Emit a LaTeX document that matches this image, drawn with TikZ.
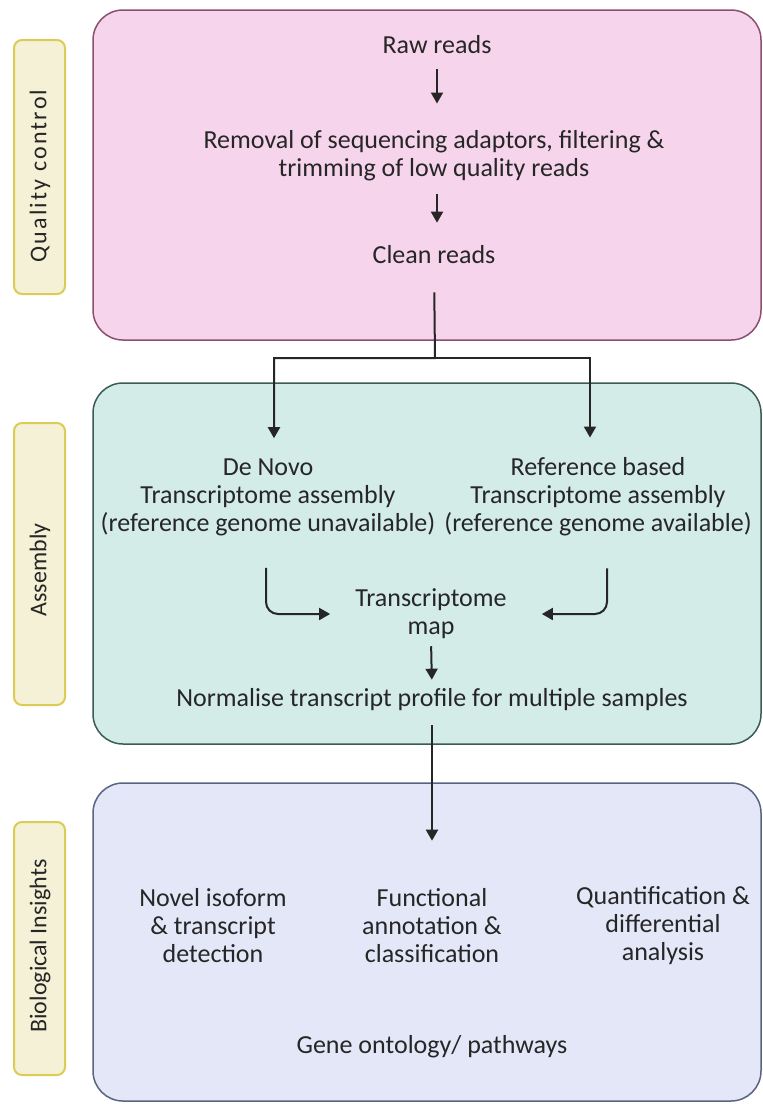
\documentclass[tikz,border=0pt]{standalone}
\usepackage{fontspec}
\setmainfont{Carlito}
\usetikzlibrary{arrows.meta}
\definecolor{pinkfill}{HTML}{F6D5EC}
\definecolor{pinkdraw}{HTML}{8C4F6E}
\definecolor{tealfill}{HTML}{D3ECE8}
\definecolor{tealdraw}{HTML}{3A5B56}
\definecolor{bluefill}{HTML}{E3E7F7}
\definecolor{bluedraw}{HTML}{5A6380}
\definecolor{labfill}{HTML}{F4F1D7}
\definecolor{labdraw}{HTML}{DCCB55}
\definecolor{txt}{HTML}{262626}
\tikzset{
  stage/.style={rounded corners=30pt, line width=1.5pt},
  lab/.style={rounded corners=8pt, line width=2pt, draw=labdraw, fill=labfill},
  labtext/.style={rotate=90, font=\fontsize{24}{28}\selectfont, text=txt, inner sep=0pt},
  txtnode/.style={font=\fontsize{26}{28}\selectfont, text=txt, align=center, inner sep=0pt},
  arr/.style={line width=2pt, draw=black!85, -{Triangle[width=12pt,length=11pt]}},
}
\begin{document}
\begin{tikzpicture}[x=1pt,y=-1pt]
\useasboundingbox (0,0) rectangle (763,1104);
% stage boxes
\draw[stage, fill=pinkfill, draw=pinkdraw] (93,10) rectangle (761,340);
\draw[stage, fill=tealfill, draw=tealdraw] (93,383) rectangle (761,744);
\draw[stage, fill=bluefill, draw=bluedraw] (93,783) rectangle (761,1101);
% side labels
\draw[lab] (14,40) rectangle (65,294);
\node[labtext, font=\fontsize{24}{28}\selectfont\addfontfeature{LetterSpace=9}] (qc) at (40,176) {Quality control};
\draw[lab] (14,423) rectangle (65,705);
\node[labtext] (asm) at (40,570) {Assembly};
\draw[lab] (14,822) rectangle (65,1075);
\node[labtext] (bio) at (40,946) {Biological Insights};
% quality control texts
\node[txtnode] (raw) at (437,45) {Raw reads};
\node[txtnode] (removal) at (434,156) {Removal of sequencing adaptors, filtering \&\\trimming of low quality reads};
\node[txtnode] (clean) at (434,255) {Clean reads};
% assembly texts
\node[txtnode] (denovo) at (268,497) {De Novo\\Transcriptome assembly\\(reference genome unavailable)};
\node[txtnode] (refb) at (598,497) {Reference based\\Transcriptome assembly\\(reference genome available)};
\node[txtnode] (tmap) at (431,614) {Transcriptome\\map};
\node[txtnode] (norm) at (432,700) {Normalise transcript profile for multiple samples};
% insights texts
\node[txtnode] (novel) at (213,926) {Novel isoform\\\& transcript\\detection};
\node[txtnode] (func) at (432,926) {Functional\\annotation \&\\classification};
\node[txtnode] (quant) at (663,926) {Quantification \&\\differential\\analysis};
\node[txtnode] (gene) at (432,1047) {Gene ontology/ pathways};
% connectors
\coordinate (split) at (435,358);
\draw[arr, shorten <=15pt, shorten >=27pt] (raw.south) -- (raw.south |- removal.north);
\draw[arr, shorten <=13pt, shorten >=23pt] (removal.south -| raw.south) -- (clean.north -| raw.south);
\draw[arr, shorten <=28pt, shorten >=20pt] (clean.south) -- (split) -| ([xshift=6pt]denovo.north);
\draw[arr, shorten >=20pt] (split) -| ([xshift=-8pt]refb.north);
\draw[arr, rounded corners=12pt, shorten >=25pt] ([xshift=-2pt,yshift=-32pt]denovo.south) |- (tmap.west);
\draw[arr, rounded corners=12pt, shorten >=35pt] ([xshift=9pt,yshift=-32pt]refb.south) |- (tmap.east);
\draw[arr, shorten <=7pt, shorten >=9pt] (tmap.south) -- (norm.north);
\draw[arr, shorten <=14pt, shorten >=48pt] (norm.south) -- (func.north);
\end{tikzpicture}
\end{document}
